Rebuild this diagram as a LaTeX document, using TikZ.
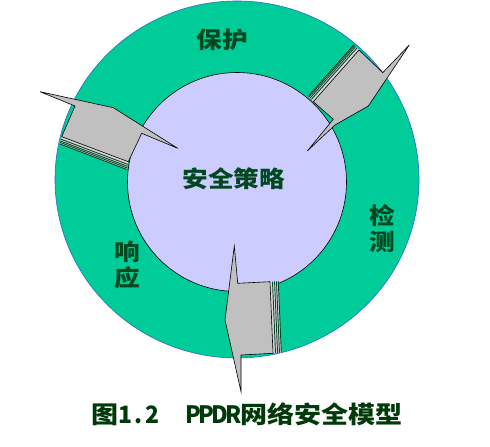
\documentclass[tikz,border=0pt]{standalone}
\usepackage{fontspec}
\usepackage{graphicx}
\usetikzlibrary{calc}
\newfontfamily\cjk{Noto Sans CJK SC}
\definecolor{ringgreen}{RGB}{0,204,153}
\definecolor{ringedge}{RGB}{40,110,200}
\definecolor{corefill}{RGB}{204,204,255}
\definecolor{arrowgray}{RGB}{192,192,192}
\definecolor{stripegray}{RGB}{215,215,215}
\definecolor{stripegreen}{RGB}{10,70,42}
\definecolor{labelgreen}{RGB}{0,72,32}
\definecolor{capgreen}{RGB}{0,58,10}
\newcommand{\sx}[1]{\scalebox{1.12}[1]{#1}}
\newcommand{\hw}[1]{\makebox[0.5em][c]{\scalebox{0.85}[1]{#1}}}
\tikzset{
  arrowbody/.style={fill=arrowgray, draw=black, line width=0.6bp, line join=miter},
  stripeband/.style={fill=stripegray, draw=none},
  stripeline/.style={draw=stripegreen, line width=0.9bp},
  lbl/.style={text=labelgreen, font=\cjk\bfseries\fontsize{23}{26}\selectfont, inner sep=0pt, align=center},
  caption/.style={text=capgreen, font=\cjk\bfseries\fontsize{24}{26}\selectfont, inner sep=0pt, anchor=west}
}
\begin{document}
\begin{tikzpicture}[x=1bp,y=-1bp]
\useasboundingbox (0,0) rectangle (490,447);
\fill[white] (0,0) rectangle (490,447);
% rings
\draw[draw=ringedge, line width=0.6bp, fill=ringgreen] (237,179.5) ellipse [x radius=182, y radius=178.5];
\draw[draw=black, line width=0.6bp, fill=corefill] (237,182) circle [radius=109.5];

% ---- top-right arrow (protect -> detect)
\coordinate (aS1) at (313.3,101.7);
\coordinate (aS2) at (359,50);
\coordinate (aS1o) at (308.3,96.2);
\coordinate (aS2o) at (354,44.7);
\fill[stripeband] (aS1) -- (aS2) -- (aS2o) -- (aS1o) -- cycle;
\foreach \f in {0.4,0.65,0.85,1} \draw[stripeline] ($(aS1)!\f!(aS1o)$) -- ($(aS2)!\f!(aS2o)$);
\filldraw[arrowbody] (aS2) -- (382.7,72.7) -- (409.3,45) -- (368.3,106) -- (335,125) -- (307.3,151) -- (333.3,119.3) -- (aS1) -- cycle;

% ---- left arrow (respond -> protect)
\coordinate (bB1) at (61.7,136.7);
\coordinate (bB2) at (128.3,161.7);
\coordinate (bB1o) at (59.8,143.9);
\coordinate (bB2o) at (126.6,169.4);
\fill[stripeband] (bB1) -- (bB2) -- (bB2o) -- (bB1o) -- cycle;
\foreach \f in {0.35,0.6,0.8,1} \draw[stripeline] ($(bB1)!\f!(bB1o)$) -- ($(bB2)!\f!(bB2o)$);
\filldraw[arrowbody] (75,106) -- (40,91.7) -- (113.3,107.7) -- (177.7,148.3) -- (141.7,133.3) -- (bB2) -- (bB1) -- cycle;

% ---- bottom arrow (detect -> respond)
\coordinate (cB1) at (270,281.7);
\coordinate (cB2) at (273,353.3);
\coordinate (cB1o) at (278.3,281.3);
\coordinate (cB2o) at (281.3,352.6);
\fill[stripeband] (cB1) -- (cB2) -- (cB2o) -- (cB1o) -- cycle;
\foreach \f in {0.3,0.55,0.78,1} \draw[stripeline] ($(cB1)!\f!(cB1o)$) -- ($(cB2)!\f!(cB2o)$);
\filldraw[arrowbody] (234.3,246) -- (237.7,283.3) -- (cB1) -- (cB2) -- (241,355) -- (241,391.7) -- (225,320) -- cycle;

% ---- labels
\node[lbl] (protect) at (222,39.5) {\sx{保护}};
\node[lbl] (policy) at (233.8,178.5) {\sx{安全策略}};
\node[lbl] (detect) at (382.5,228.5) {\sx{检}\\\sx{测}};
\node[lbl] (respond) at (127.5,265.2) {\sx{响}\\\sx{应}};
\node[caption] (cap) at (91.5,414) {\scalebox{1.13}[1]{图\hw{1}\hw{.}\hw{2}\hspace{1em}\hw{P}\hw{P}\hw{D}\hw{R}网络安全模型}};
\end{tikzpicture}
\end{document}
